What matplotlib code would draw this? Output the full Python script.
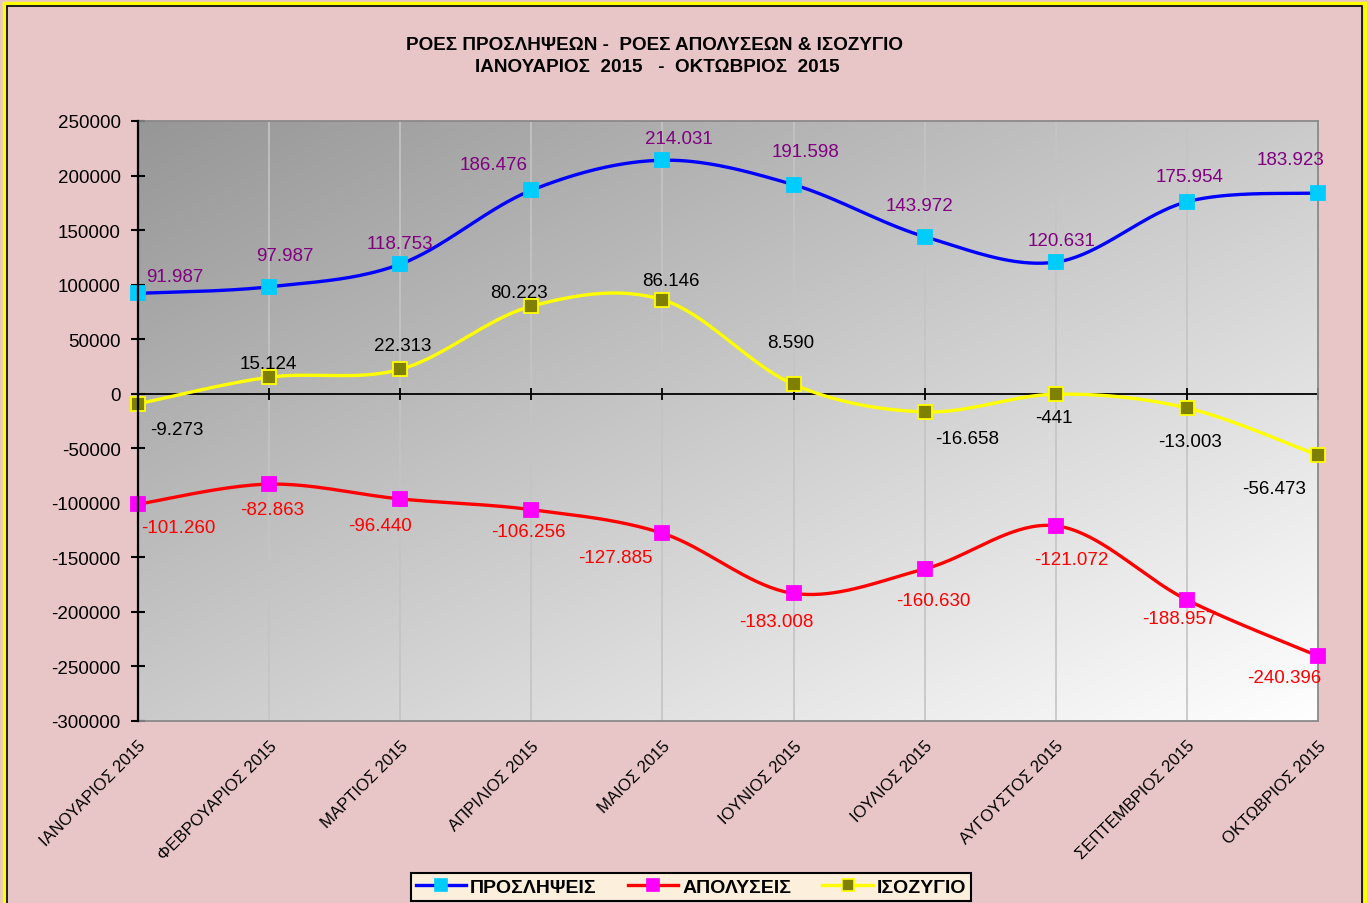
import numpy as np
import matplotlib
matplotlib.use('Agg')
import matplotlib.pyplot as plt
from matplotlib.lines import Line2D
from matplotlib.patches import Rectangle

# ---------------- data ----------------
months = ['ΙΑΝΟΥΑΡΙΟΣ 2015', 'ΦΕΒΡΟΥΑΡΙΟΣ 2015', 'ΜΑΡΤΙΟΣ 2015', 'ΑΠΡΙΛΙΟΣ 2015',
          'ΜΑΙΟΣ 2015', 'ΙΟΥΝΙΟΣ 2015', 'ΙΟΥΛΙΟΣ 2015', 'ΑΥΓΟΥΣΤΟΣ 2015',
          'ΣΕΠΤΕΜΒΡΙΟΣ 2015', 'ΟΚΤΩΒΡΙΟΣ 2015']
hires = [91987, 97987, 118753, 186476, 214031, 191598, 143972, 120631, 175954, 183923]
fires = [-101260, -82863, -96440, -106256, -127885, -183008, -160630, -121072, -188957, -240396]
balance = [-9273, 15124, 22313, 80223, 86146, 8590, -16658, -441, -13003, -56473]
yticks = [250000, 200000, 150000, 100000, 50000, 0, -50000, -100000, -150000,
          -200000, -250000, -300000]
series_names = ['ΠΡΟΣΛΗΨΕΙΣ', 'ΑΠΟΛΥΣΕΙΣ', 'ΙΣΟΖΥΓΙΟ']
title1 = 'ΡΟΕΣ ΠΡΟΣΛΗΨΕΩΝ -  ΡΟΕΣ ΑΠΟΛΥΣΕΩΝ & ΙΣΟΖΥΓΙΟ'
title2 = 'ΙΑΝΟΥΑΡΙΟΣ  2015   -  ΟΚΤΩΒΡΙΟΣ  2015'

# label offsets in pixels (dx, dy with dy positive = downward in the image)
off_hires = [(37, -17), (16, -31), (0, -21), (-38, -26), (16, -22), (12, -33),
             (-5, -31), (6, -22), (3, -25), (-28, -34)]
off_fires = [(40, 23), (3, 25), (-20, 27), (-3, 22), (-47, 24), (-17, 28),
             (9, 32), (16, 34), (-8, 19), (-34, 22)]
off_bal = [(39, 26), (-1, -14), (2, -24), (-12, -14), (8, -19), (-3, -42),
           (42, 27), (-2, 23), (3, 34), (-44, 33)]

SANS = ['Liberation Sans', 'DejaVu Sans']
plt.rcParams['font.family'] = SANS
plt.rcParams['axes.unicode_minus'] = False

W, H = 1368, 904
fig = plt.figure(figsize=(W / 100, H / 100), dpi=100)
fig.patch.set_facecolor('#e8c6c8')

L, R, T, B = 138, 1318, 122, 722
ax = fig.add_axes([L / W, 1 - B / H, (R - L) / W, (B - T) / H])
ax.set_facecolor('white')

# diagonal gradient background: dark top-left -> white bottom-right
gx, gy = np.meshgrid(np.linspace(0, 1, 300), np.linspace(0, 1, 200))
t = (gx + gy) / 2.0
g = 0.59 + 0.41 * t
img = np.dstack([g, g, g])
ax.imshow(img, extent=(0, 1, 0, 1), origin='upper', transform=ax.transAxes,
          aspect='auto', zorder=0, interpolation='bilinear')

n = len(months)
x = np.arange(n)
ax.set_xlim(0, n - 1)
ax.set_ylim(-300000, 250000)

# vertical gridlines
for xi in x[1:-1]:
    ax.axvline(xi, color='#c4c4c4', lw=1.2, zorder=1)

# zero line with tick marks
ax.axhline(0, color='black', lw=1.3, zorder=2)
ax.plot(x, np.zeros(n), ls='none', marker='|', color='black', markersize=8,
        markeredgewidth=1.3, zorder=2, clip_on=False)


def smooth(xs, ys, steps=40):
    xs = np.asarray(xs, float)
    ys = np.asarray(ys, float)
    px = np.concatenate([[xs[0]], xs, [xs[-1]]])
    py = np.concatenate([[ys[0]], ys, [ys[-1]]])
    ox, oy = [], []
    for i in range(1, len(px) - 2):
        p0 = np.array([px[i - 1], py[i - 1]])
        p1 = np.array([px[i], py[i]])
        p2 = np.array([px[i + 1], py[i + 1]])
        p3 = np.array([px[i + 2], py[i + 2]])
        b1 = p1 + (p2 - p0) / 6.0
        b2 = p2 - (p3 - p1) / 6.0
        tt = np.linspace(0, 1, steps)[:, None]
        pts = ((1 - tt) ** 3) * p1 + 3 * ((1 - tt) ** 2) * tt * b1 + \
            3 * (1 - tt) * tt ** 2 * b2 + tt ** 3 * p2
        ox.extend(pts[:, 0])
        oy.extend(pts[:, 1])
    return np.array(ox), np.array(oy)


def fmt(v):
    return f'{v:,}'.replace(',', '.')


styles = [
    (hires, '#0000ff', '#00ccff', '#00ccff', '#800080', off_hires),
    (fires, '#ff0000', '#ff00ff', '#ff00ff', '#ff0000', off_fires),
    (balance, '#ffff00', '#808000', '#ffff00', '#000000', off_bal),
]
handles = []
for vals, lc, mc, mec, tc, offs in styles:
    sx, sy = smooth(x, vals)
    ax.plot(sx, sy, color=lc, lw=2.4, zorder=3, clip_on=False,
            solid_capstyle='round')
    ax.plot(x, vals, ls='none', marker='s', markersize=10, markerfacecolor=mc,
            markeredgecolor=mec, markeredgewidth=1.3, zorder=4, clip_on=False)
    for xi, v, (dx, dy) in zip(x, vals, offs):
        ax.annotate(fmt(v), (xi, v), xytext=(dx, -dy), textcoords='offset pixels',
                    ha='center', va='center', fontsize=13.5, color=tc, zorder=5,
                    annotation_clip=False)
    handles.append(Line2D([], [], color=lc, lw=2.4, marker='s', markersize=9,
                          markerfacecolor=mc, markeredgecolor=mec,
                          markeredgewidth=1.2))

# axes styling
for s in ['top', 'right', 'bottom']:
    ax.spines[s].set_color('#8a8a8a')
    ax.spines[s].set_linewidth(1.3)
ax.spines['left'].set_color('black')
ax.spines['left'].set_linewidth(1.6)
ax.spines['left'].set_zorder(6)

ax.set_yticks(yticks)
ax.set_yticklabels([str(v) for v in yticks], fontsize=13.5)
ax.tick_params(axis='y', direction='inout', length=10, width=1.5, pad=7.5)

ax.set_xticks(x)
ax.set_xticklabels(months, rotation=45, ha='right', rotation_mode='anchor',
                   fontsize=12)
ax.tick_params(axis='x', length=0, pad=12)

# titles
fig.text(655 / W, 1 - 46 / H, title1, ha='center', va='center', fontsize=13.6,
         fontweight='bold')
fig.text(657 / W, 1 - 68 / H, title2, ha='center', va='center', fontsize=13.6,
         fontweight='bold')

# legend
leg = fig.legend(handles, series_names, loc='center',
                 bbox_to_anchor=(691 / W, 1 - 888 / H), ncol=3, frameon=True,
                 fancybox=False, edgecolor='black', facecolor='#fcf0dc',
                 framealpha=1, handlelength=2.6, handletextpad=0.2,
                 columnspacing=1.6, borderpad=0.25,
                 prop={'weight': 'bold', 'size': 14})
leg.get_frame().set_linewidth(1.5)

# outer frame
fig.patches.append(Rectangle((4 / W, -0.05), (1365 - 4) / W, 1 - 4 / H + 0.05,
                             transform=fig.transFigure, fill=False,
                             edgecolor='#ffff00', lw=2.5, zorder=0))
fig.patches.append(Rectangle((6.5 / W, -0.05), (1362 - 6.5) / W, 1 - 7 / H + 0.05,
                             transform=fig.transFigure, fill=False,
                             edgecolor='black', lw=1.2, zorder=0))

fig.savefig('out.png', dpi=100, facecolor=fig.get_facecolor())
